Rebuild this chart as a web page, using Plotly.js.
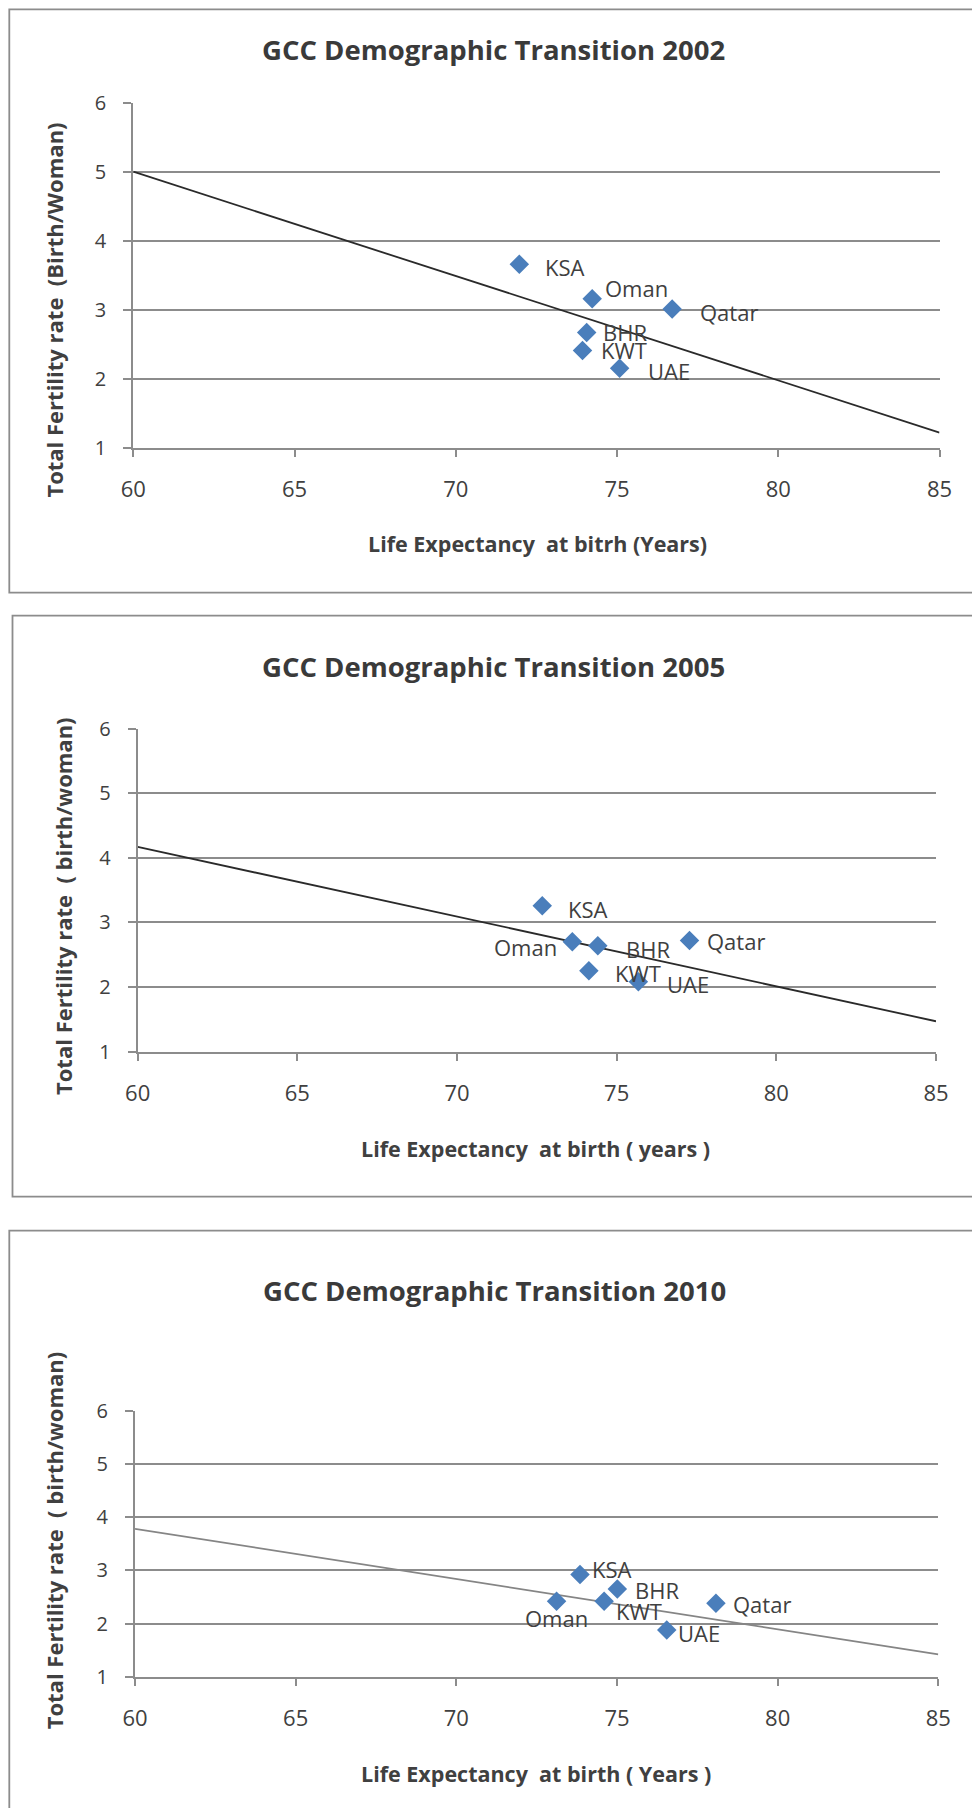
<!DOCTYPE html>
<html>
<head>
<meta charset="utf-8">
<script src="https://cdn.plot.ly/plotly-3.0.1.min.js"></script>
<style>
  html, body { margin: 0; padding: 0; background: #ffffff; }
  #chart { width: 972px; height: 1808px; }
</style>
</head>
<body>
<div id="chart"></div>
<script>
// ---------- data ----------
const countries = ['KSA', 'Oman', 'Qatar', 'BHR', 'KWT', 'UAE'];

const life2002 = [71.97, 74.23, 76.71, 74.06, 73.93, 75.08];
const tfr2002  = [3.66, 3.16, 3.01, 2.67, 2.41, 2.15];

const life2005 = [72.67, 73.61, 77.28, 74.41, 74.13, 75.68];
const tfr2005  = [3.26, 2.70, 2.72, 2.64, 2.25, 2.08];

const life2010 = [73.85, 73.12, 78.08, 75.01, 74.60, 76.55];
const tfr2010  = [2.92, 2.42, 2.38, 2.65, 2.42, 1.88];

// linear trend lines (end values read at x = 60 and x = 85)
const trendX    = [60, 85];
const trend2002 = [5.00, 1.22];
const trend2005 = [4.17, 1.47];
const trend2010 = [3.78, 1.42];

const xTickVals = [60, 65, 70, 75, 80, 85];
const yTickVals = [1, 2, 3, 4, 5, 6];

const chartTitles = ['GCC Demographic Transition 2002', 'GCC Demographic Transition 2005', 'GCC Demographic Transition 2010'];
const xTitles = ['Life Expectancy\u00a0 at bitrh (Years)', 'Life Expectancy\u00a0 at birth ( years )', 'Life Expectancy\u00a0 at birth ( Years )'];
const yTitles = ['Total Fertility rate\u00a0 (Birth/Woman)', 'Total Fertility rate\u00a0 ( birth/woman)', 'Total Fertility rate\u00a0 ( birth/woman)'];

// ---------- layout (pixel geometry) ----------
const W = 972, H = 1808;
const px = v => v / W;
const py = v => 1 - v / H;

const panels = [
  { life: life2002, tfr: tfr2002, trend: trend2002, trendColor: '#2a2a2a',
    xpx: [133.3, 939.5], ypx: [447.7, 102.7],
    box: [9.3, 9.3, 980, 592.7],
    title: [494, 50], xt: [537.5, 543.5], yt: [53.6, 310],
    labels: { KSA: [25, 3, 'left'], Oman: [11.7, -11, 'left'], Qatar: [27, 2.6, 'left'],
              BHR: [15, 0, 'left'], KWT: [17, 0, 'left'], UAE: [27.6, 2.7, 'left'] } },
  { life: life2005, tfr: tfr2005, trend: trend2005, trendColor: '#2a2a2a',
    xpx: [137.7, 936], ypx: [1051.6, 728.7],
    box: [12.5, 615.7, 980, 1196.7],
    title: [494, 667], xt: [535.6, 1148], yt: [63, 906],
    labels: { KSA: [25, 3.3, 'left'], Oman: [-14, 5, 'right'], Qatar: [16.7, 0, 'left'],
              BHR: [27.3, 3.3, 'left'], KWT: [25, 1.7, 'left'], UAE: [27.7, 1.7, 'left'] } },
  { life: life2010, tfr: tfr2010, trend: trend2010, trendColor: '#858585',
    xpx: [135, 938.3], ypx: [1676.7, 1410.7],
    box: [9.3, 1230.7, 980, 1815],
    title: [494.7, 1290], xt: [536.3, 1773], yt: [53.6, 1540.7],
    labels: { KSA: [11.3, -5.4, 'left'], Oman: [0, 17.3, 'center'], Qatar: [16.3, 0.7, 'left'],
              BHR: [17, 1.3, 'left'], KWT: [11, 9.4, 'left'], UAE: [10.6, 3.3, 'left'] } }
];

const gridColor = '#8c8c8c';
const textColor = '#404040';
const markerColor = '#4a7ebb';
const FONT = '"Open Sans", "Noto Sans", sans-serif';

const data = [];
const layout = {
  width: W, height: H,
  margin: { l: 0, r: 0, t: 0, b: 0, pad: 0 },
  paper_bgcolor: '#ffffff',
  plot_bgcolor: 'rgba(0,0,0,0)',
  showlegend: false,
  font: { family: FONT, color: textColor },
  shapes: [],
  annotations: []
};

panels.forEach((p, i) => {
  const n = i === 0 ? '' : String(i + 1);
  const xa = 'x' + n, ya = 'y' + n;

  layout['xaxis' + n] = {
    domain: [px(p.xpx[0]), px(p.xpx[1])],
    anchor: ya,
    range: [60, 85],
    tickmode: 'array', tickvals: xTickVals,
    showgrid: false, zeroline: false,
    showline: true, linecolor: gridColor, linewidth: 2,
    ticks: 'outside', ticklen: 7, tickwidth: 2, tickcolor: gridColor,
    ticklabelstandoff: 14,
    tickfont: { family: FONT, size: 22, color: textColor },
    fixedrange: true
  };
  layout['yaxis' + n] = {
    domain: [py(p.ypx[0]), py(p.ypx[1])],
    anchor: xa,
    range: [1, 6],
    tickmode: 'array', tickvals: yTickVals,
    showgrid: true, gridcolor: gridColor, gridwidth: 2,
    zeroline: false,
    showline: true, linecolor: gridColor, linewidth: 2,
    ticks: 'outside', ticklen: 8, tickwidth: 2, tickcolor: gridColor,
    ticklabelstandoff: 13,
    tickfont: { family: FONT, size: 20, color: textColor },
    fixedrange: true
  };

  // trend line
  data.push({
    type: 'scatter', mode: 'lines',
    x: trendX, y: p.trend,
    xaxis: xa, yaxis: ya,
    line: { color: p.trendColor, width: 1.8 },
    cliponaxis: false, hoverinfo: 'skip'
  });
  // points
  data.push({
    type: 'scatter', mode: 'markers',
    x: p.life, y: p.tfr, text: countries,
    xaxis: xa, yaxis: ya,
    marker: { symbol: 'diamond', size: 15, color: markerColor, line: { width: 0 } },
    cliponaxis: false
  });

  // data labels
  countries.forEach((c, k) => {
    const o = p.labels[c];
    layout.annotations.push({
      xref: xa, yref: ya, x: p.life[k], y: p.tfr[k],
      text: c, showarrow: false,
      xanchor: o[2], yanchor: 'middle',
      xshift: o[0], yshift: -o[1],
      borderpad: 0,
      font: { family: FONT, size: 22, color: textColor }
    });
  });

  // panel frame
  layout.shapes.push({
    type: 'rect', xref: 'paper', yref: 'paper', layer: 'below',
    x0: px(p.box[0]), x1: px(p.box[2]), y0: py(p.box[3]), y1: py(p.box[1]),
    line: { color: gridColor, width: 1.8 }, fillcolor: 'rgba(0,0,0,0)'
  });

  // chart title
  layout.annotations.push({
    xref: 'paper', yref: 'paper', x: px(p.title[0]), y: py(p.title[1]),
    xanchor: 'center', yanchor: 'middle', showarrow: false,
    text: '<b>' + chartTitles[i] + '</b>',
    font: { family: FONT, size: 27.5, color: '#3a3a3a' }
  });
  // x axis title
  layout.annotations.push({
    xref: 'paper', yref: 'paper', x: px(p.xt[0]), y: py(p.xt[1]),
    xanchor: 'center', yanchor: 'middle', showarrow: false,
    text: '<b>' + xTitles[i] + '</b>',
    font: { family: FONT, size: 21.5, color: textColor }
  });
  // y axis title
  layout.annotations.push({
    xref: 'paper', yref: 'paper', x: px(p.yt[0]), y: py(p.yt[1]),
    xanchor: 'center', yanchor: 'middle', showarrow: false,
    textangle: -90,
    text: '<b>' + yTitles[i] + '</b>',
    font: { family: FONT, size: 22, color: textColor }
  });
});

Plotly.newPlot('chart', data, layout, { staticPlot: true, displayModeBar: false });
</script>
</body>
</html>
